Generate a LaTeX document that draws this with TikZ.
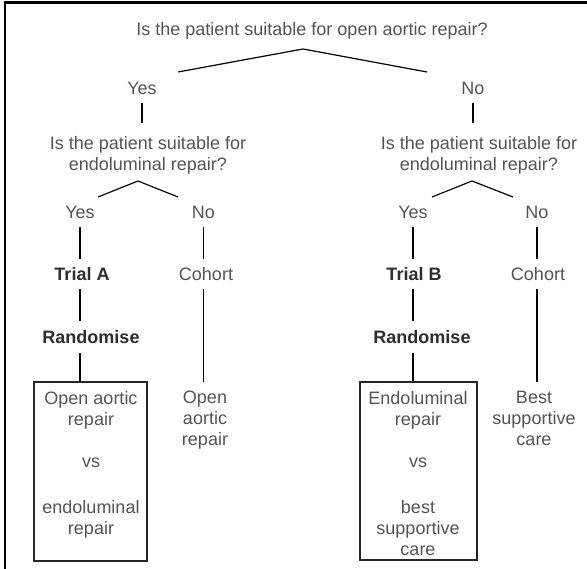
\documentclass[tikz,border=0pt]{standalone}
\usepackage{fontspec}
\setmainfont{Liberation Sans}
\definecolor{txtgray}{gray}{0.33}
\definecolor{boldgray}{gray}{0.18}
\begin{document}
\begin{tikzpicture}[x=1pt,y=-1pt,
  lbl/.style={inner sep=0pt, font=\fontsize{18}{21}\selectfont, text=txtgray},
  single/.style={lbl, text height=13pt, text depth=4pt, anchor=base},
  boldlbl/.style={single, font=\fontsize{18}{21}\selectfont\bfseries, text=boldgray},
  multi/.style={lbl, anchor=north, align=center},
  conn/.style={line width=1.3pt, shorten <=4pt, shorten >=9pt},
  caret/.style={line width=1.2pt, line join=miter},
  outcome/.style={draw=black!85, line width=1.5pt, inner sep=0pt}]
\useasboundingbox (0,0) rectangle (587,569);
% frame
\draw[line width=2.7pt] (5,569) -- (5,2.7) -- (587,2.7);
% question 1
\node[single] (title) at (312,35.5) {Is the patient suitable for open aortic repair?};
\coordinate (t1) at (178,72);
\coordinate (t2) at (303,49);
\coordinate (t3) at (427,72);
\draw[caret] (t1) -- (t2) -- (t3);
\node[single] (yes1) at (142,95) {Yes};
\node[single] (no1) at (473,95) {No};
% second questions
\node[multi] (qA) at (148,136) {Is the patient suitable for\\endoluminal repair?};
\node[multi] (qB) at (479,136) {Is the patient suitable for\\endoluminal repair?};
\draw[conn, shorten >=13pt] (yes1.south) -- (yes1.south |- qA.north);
\draw[conn, shorten >=13pt] (no1.south) -- (no1.south |- qB.north);
\coordinate (a1) at (98,197);
\coordinate (a2) at (138,181);
\coordinate (a3) at (178,197);
\draw[caret] (a1) -- (a2) -- (a3);
\coordinate (b1) at (432,197);
\coordinate (b2) at (472,181);
\coordinate (b3) at (513,197);
\draw[caret] (b1) -- (b2) -- (b3);
% left subtree
\node[single] (yesA) at (80,219) {Yes};
\node[single] (noA) at (203.5,219) {No};
\node[boldlbl] (trialA) at (82,281) {Trial A};
\node[single] (cohortA) at (206,281) {Cohort};
\node[boldlbl] (randA) at (91,343.5) {Randomise};
\node[outcome, minimum width=113pt, minimum height=179pt] (boxA) at (90.5,471.5) {};
\node[multi] (boxAtxt) at (91,391) {Open aortic\\repair\\[21pt]vs\\[25pt]endoluminal\\repair};
\node[multi] (openA) at (205,391) {Open\\aortic\\repair};
\draw[conn] (yesA.south) -- (yesA.south |- trialA.north);
\draw[conn] (yesA.south |- trialA.south) -- (yesA.south |- randA.north);
\draw[conn, shorten <=5.5pt, shorten >=0pt] (yesA.south |- randA.south) -- (yesA.south |- boxA.north);
\draw[conn] (noA.south) -- (noA.south |- cohortA.north);
\draw[conn] (noA.south |- cohortA.south) -- (noA.south |- openA.north);
% right subtree
\node[single] (yesB) at (413,219) {Yes};
\node[single] (noB) at (537,219) {No};
\node[boldlbl] (trialB) at (414,281) {Trial B};
\node[single] (cohortB) at (538,281) {Cohort};
\node[boldlbl] (randB) at (422,343.5) {Randomise};
\node[outcome, minimum width=117pt, minimum height=178pt] (boxB) at (418.5,471) {};
\node[multi] (boxBtxt) at (418,391) {Endoluminal\\repair\\[21pt]vs\\[25pt]best\\supportive\\care};
\node[multi] (bscB) at (534,391) {Best\\supportive\\care};
\draw[conn] (yesB.south) -- (yesB.south |- trialB.north);
\draw[conn] (yesB.south |- trialB.south) -- (yesB.south |- randB.north);
\draw[conn, shorten <=5.5pt, shorten >=0pt] (yesB.south |- randB.south) -- (yesB.south |- boxB.north);
\draw[conn] (noB.south) -- (noB.south |- cohortB.north);
\draw[conn] (noB.south |- cohortB.south) -- (noB.south |- bscB.north);
\end{tikzpicture}
\end{document}
